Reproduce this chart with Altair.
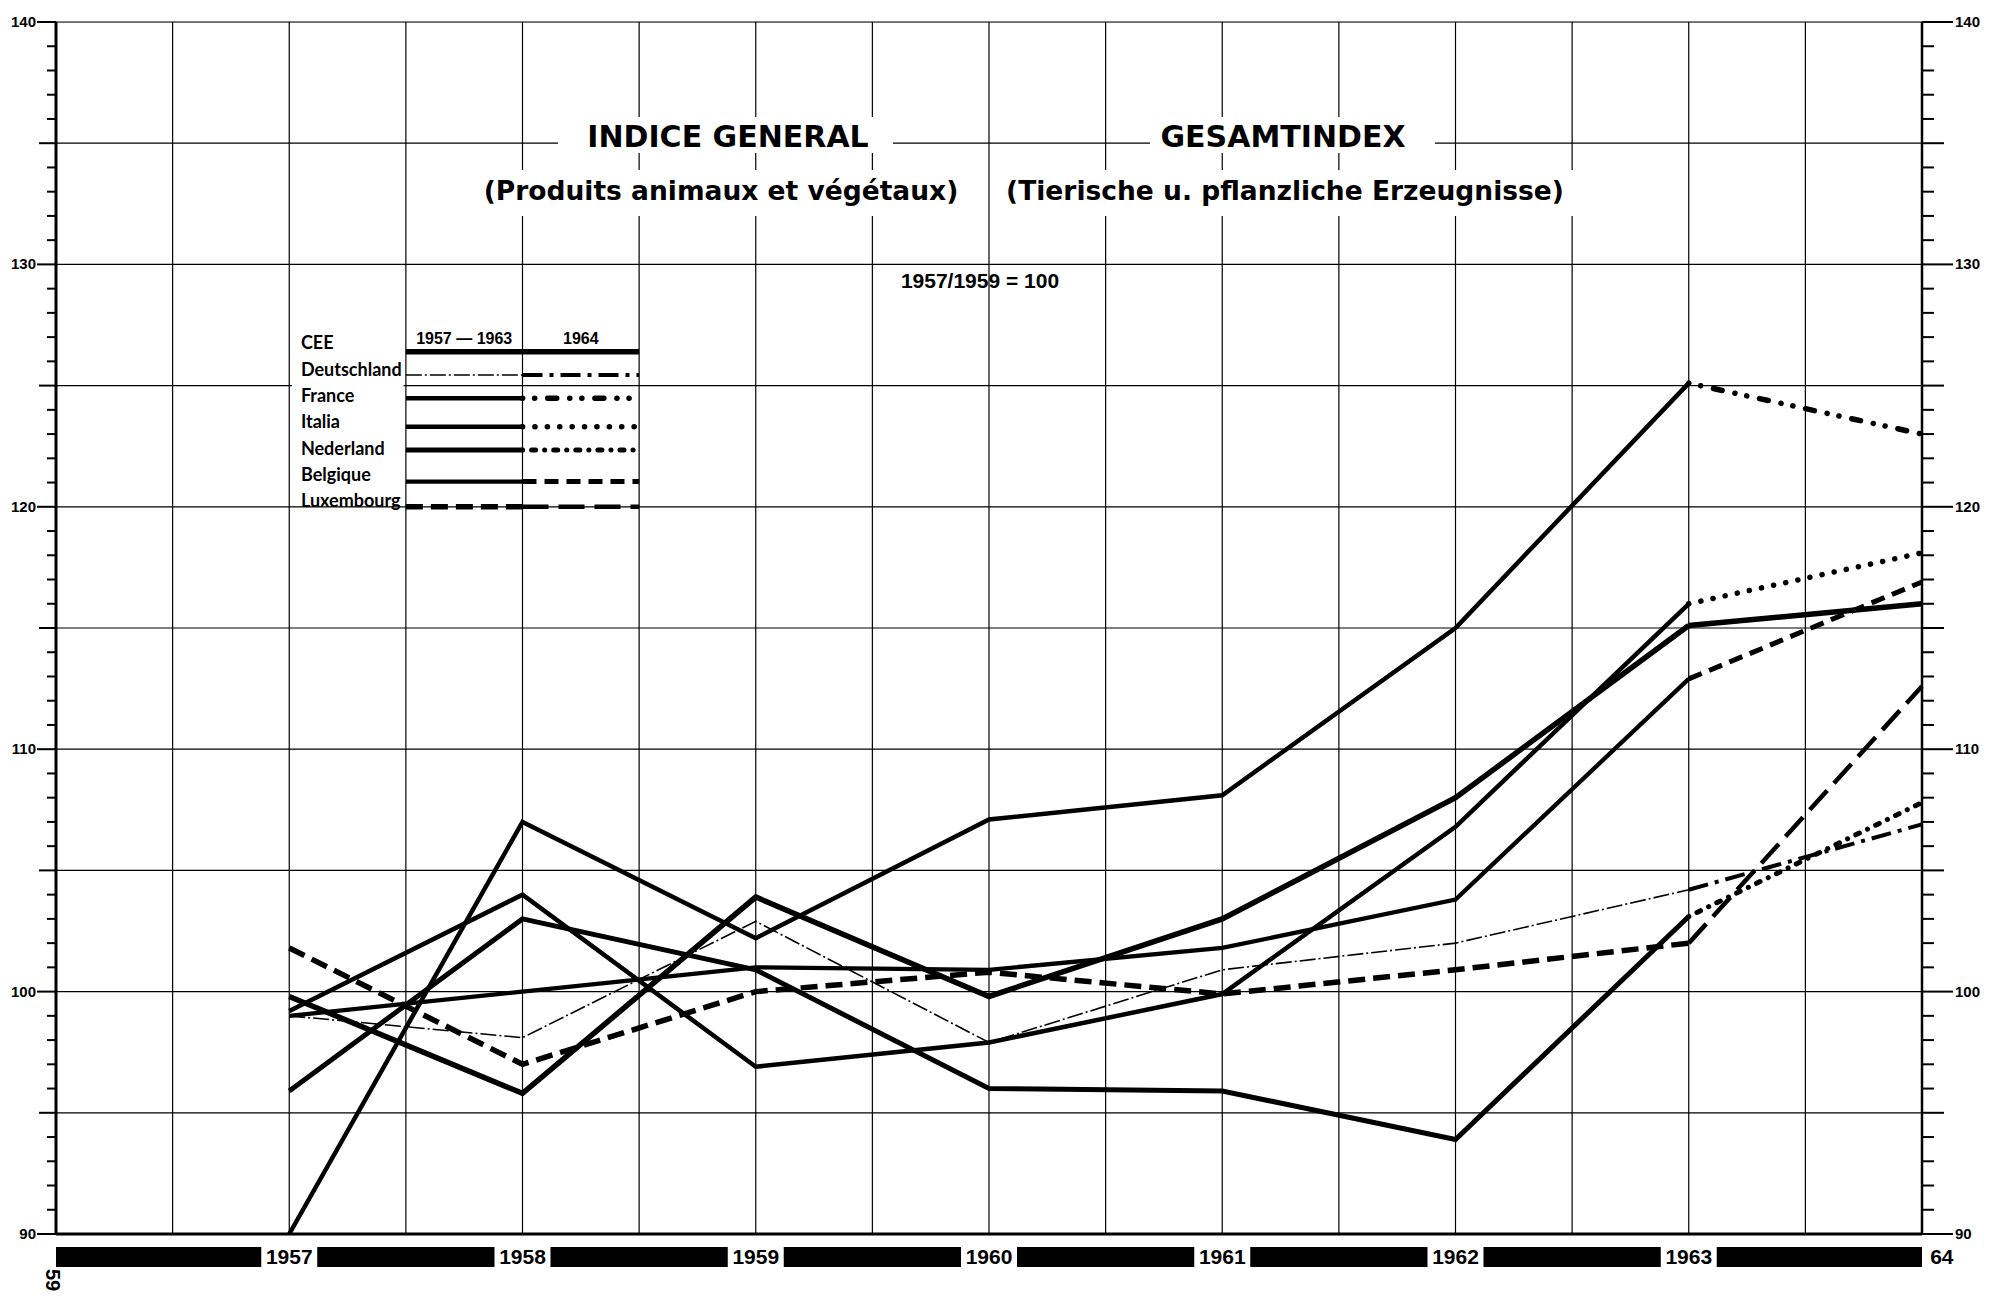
import altair as alt
import pandas as pd

# ---------------- data ----------------
YEARS = [1957, 1958, 1959, 1960, 1961, 1962, 1963]
YEARS_1964 = [1963, 1964]
SERIES = ["CEE", "Deutschland", "France", "Italia", "Nederland", "Belgique", "Luxembourg"]

CEE = [99.8, 95.8, 103.9, 99.8, 103.0, 108.0, 115.1]
DEUTSCHLAND = [99.0, 98.1, 102.9, 97.9, 100.9, 102.0, 104.2]
FRANCE = [90.0, 107.0, 102.2, 107.1, 108.1, 115.0, 125.1]
ITALIA = [99.2, 104.0, 96.9, 97.9, 99.9, 106.8, 116.0]
NEDERLAND = [95.9, 103.0, 100.9, 96.0, 95.9, 93.9, 103.1]
BELGIQUE = [99.0, 100.0, 101.0, 100.9, 101.8, 103.8, 112.9]
LUXEMBOURG = [101.8, 97.0, 100.0, 100.8, 99.9, 100.9, 102.0]
VALUES_1964 = [116.0, 106.9, 123.0, 118.1, 107.8, 116.9, 112.6]

SERIES_VALUES = [CEE, DEUTSCHLAND, FRANCE, ITALIA, NEDERLAND, BELGIQUE, LUXEMBOURG]

# legend (drawn inside the plot, in data units)
LEGEND_TEXT_Y = [126.72, 125.62, 124.51, 123.44, 122.36, 121.29, 120.20]
LEGEND_LINE_Y = [126.40, 125.44, 124.48, 123.30, 122.34, 121.04, 120.0]
LEGEND_LABEL_X = 1957.05
LEGEND_SEG1 = [1957.5, 1958.0]
LEGEND_SEG2 = [1958.0, 1958.5]
LEGEND_HEAD = ["1957 \u2014 1963", "1964"]
LEGEND_HEAD_X = [1957.75, 1958.25]
LEGEND_HEAD_Y = 126.94

# axes
AXIS_LABELS = [90, 100, 110, 120, 130, 140]
FIVE_TICKS = [95, 105, 115, 125, 135]
MINOR_TICKS = [v for v in range(91, 140) if v % 5]
H_GRID = [95, 100, 105, 110, 115, 120, 125, 130, 135, 140]
V_GRID = [1956.5, 1957, 1957.5, 1958, 1958.5, 1959, 1959.5, 1960, 1960.5,
          1961, 1961.5, 1962, 1962.5, 1963, 1963.5]
YEAR_LABELS = ["1957", "1958", "1959", "1960", "1961", "1962", "1963", "64"]
YEAR_LABEL_X = [1957, 1958, 1959, 1960, 1961, 1962, 1963, 1964.085]
BAR_START = [1956, 1957.12, 1958.12, 1959.12, 1960.12, 1961.12, 1962.12, 1963.12]
BAR_END = [1956.88, 1957.88, 1958.88, 1959.88, 1960.88, 1961.88, 1962.88, 1964.0]

TITLE_1 = ["INDICE GENERAL", "GESAMTINDEX"]
TITLE_2 = ["(Produits animaux et v\u00e9g\u00e9taux)", "(Tierische u. pflanzliche Erzeugnisse)"]
BASE_NOTE = "1957/1959 = 100"
PAGE_NO = "59"

# ---------------- layout ----------------
W, H = 1866, 1212
LEFT, TOP, RIGHT, BOTTOM = 48, 14, 66, 58

TITLE_FONT = "DejaVu Sans"
LABEL_FONT = "Lato"
NUM_FONT = "Liberation Sans"

xs = alt.Scale(domain=[1956, 1964], nice=False, zero=False)
ys = alt.Scale(domain=[90, 140], nice=False, zero=False)


def X(f="year"):
    return alt.X(f"{f}:Q", scale=xs, axis=None)


def Y(f="value"):
    return alt.Y(f"{f}:Q", scale=ys, axis=None)


ONE = pd.DataFrame({"k": [0]})
layers = []

# gridlines
layers.append(alt.Chart(pd.DataFrame({"value": H_GRID})).mark_rule(color="black", strokeWidth=1.2)
              .encode(y=Y(), x=alt.value(0), x2=alt.value(W)))
layers.append(alt.Chart(pd.DataFrame({"year": V_GRID})).mark_rule(color="black", strokeWidth=1.2)
              .encode(x=X(), y=alt.value(0), y2=alt.value(H)))

# white backgrounds behind the title pieces
for (a, b, c, d) in [(502, 837, 95, 131), (1094, 1379, 95, 131),
                     (417, 912, 148, 194), (937, 1522, 148, 194)]:
    layers.append(alt.Chart(ONE).mark_rect(color="white")
                  .encode(x=alt.value(a), x2=alt.value(b), y=alt.value(c), y2=alt.value(d)))
# white box behind legend labels
layers.append(alt.Chart(pd.DataFrame({"x1": [1957.012], "x2": [1957.49], "y1": [127.6], "y2": [120.35]}))
              .mark_rect(color="white")
              .encode(x=X("x1"), x2=alt.X2("x2"), y=Y("y1"), y2=alt.Y2("y2")))


def ptext(s, x, y, size, font, weight="bold", align="center", baseline="alphabetic", angle=0):
    return (alt.Chart(pd.DataFrame({"t": [s]}))
            .mark_text(font=font, fontSize=size, fontWeight=weight, align=align,
                       baseline=baseline, angle=angle, color="black")
            .encode(text="t:N", x=alt.value(x), y=alt.value(y)))


layers.append(ptext(TITLE_1[0], 672, 125, 30, TITLE_FONT))
layers.append(ptext(TITLE_1[1], 1227, 125, 30, TITLE_FONT))
layers.append(ptext(TITLE_2[0], 665, 178, 26.5, TITLE_FONT))
layers.append(ptext(TITLE_2[1], 1229, 178, 26.5, TITLE_FONT))
layers.append(ptext(BASE_NOTE, 924, 260, 21, NUM_FONT, baseline="middle"))

# legend labels and headers
layers.append(alt.Chart(pd.DataFrame({"t": SERIES, "year": [LEGEND_LABEL_X] * 7, "value": LEGEND_TEXT_Y}))
              .mark_text(font=LABEL_FONT, fontSize=18, fontWeight="bold", align="left",
                         baseline="middle", color="black")
              .encode(x=X(), y=Y(), text="t:N"))
layers.append(alt.Chart(pd.DataFrame({"t": LEGEND_HEAD, "year": LEGEND_HEAD_X, "value": [LEGEND_HEAD_Y] * 2}))
              .mark_text(font=NUM_FONT, fontSize=16, fontWeight="bold", align="center",
                         baseline="middle", color="black")
              .encode(x=X(), y=Y(), text="t:N"))

# line styles: (width, dash, cap) for 1957-1963 and for 1964
STYLES = {
    "CEE": ((5.5, None, "butt"), (5.5, None, "butt")),
    "Deutschland": ((1.6, [16, 3, 2, 3], "butt"), (4.0, [20, 7, 4, 7], "butt")),
    "France": ((4.5, None, "butt"), (5.5, [0.1, 12, 0.1, 13, 9, 13], "round")),
    "Italia": ((4.5, None, "butt"), (5.5, [0.1, 12.3], "round")),
    "Nederland": ((5.0, None, "butt"), (5.0, [0.1, 9, 4, 9], "round")),
    "Belgique": ((4.3, None, "butt"), (5.0, [14, 8], "butt")),
    "Luxembourg": ((5.5, [17, 8], "butt"), (4.5, [26, 10], "butt")),
}


def line(df, style):
    w, dash, cap = style
    kw = dict(color="black", strokeWidth=w, strokeCap=cap, strokeJoin="miter")
    if dash:
        kw["strokeDash"] = dash
    return alt.Chart(df).mark_line(**kw).encode(x=X(), y=Y(), order="year:Q")


for i, name in enumerate(SERIES):
    s1, s2 = STYLES[name]
    ly = LEGEND_LINE_Y[i]
    layers.append(line(pd.DataFrame({"year": LEGEND_SEG1, "value": [ly, ly]}), s1))
    layers.append(line(pd.DataFrame({"year": LEGEND_SEG2, "value": [ly, ly]}), s2))

for i, name in enumerate(SERIES):
    s1, s2 = STYLES[name]
    vals = SERIES_VALUES[i]
    layers.append(line(pd.DataFrame({"year": YEARS, "value": vals}), s1))
    layers.append(line(pd.DataFrame({"year": YEARS_1964, "value": [vals[-1], VALUES_1964[i]]}), s2))

# axis lines
layers.append(alt.Chart(ONE).mark_rule(color="black", strokeWidth=3)
              .encode(x=alt.value(0), y=alt.value(0), y2=alt.value(H)))
layers.append(alt.Chart(ONE).mark_rule(color="black", strokeWidth=2.5)
              .encode(x=alt.value(W), y=alt.value(0), y2=alt.value(H)))
layers.append(alt.Chart(ONE).mark_rule(color="black", strokeWidth=3)
              .encode(x=alt.value(0), x2=alt.value(W), y=alt.value(H)))

# ticks
for vals, l_len, r_len in [(MINOR_TICKS, 9, 12), (FIVE_TICKS, 17, 22), (AXIS_LABELS, 19, 31)]:
    df = pd.DataFrame({"value": vals})
    layers.append(alt.Chart(df).mark_rule(color="black", strokeWidth=2)
                  .encode(y=Y(), x=alt.value(-l_len), x2=alt.value(0)))
    layers.append(alt.Chart(df).mark_rule(color="black", strokeWidth=2)
                  .encode(y=Y(), x=alt.value(W), x2=alt.value(W + r_len)))

lab_df = pd.DataFrame({"value": AXIS_LABELS, "t": [str(v) for v in AXIS_LABELS]})
layers.append(alt.Chart(lab_df).mark_text(font=NUM_FONT, fontSize=15, fontWeight="bold",
                                          align="right", baseline="middle", color="black")
              .encode(y=Y(), x=alt.value(-20), text="t:N"))
layers.append(alt.Chart(lab_df).mark_text(font=NUM_FONT, fontSize=15, fontWeight="bold",
                                          align="left", baseline="middle", color="black")
              .encode(y=Y(), x=alt.value(W + 33), text="t:N"))

# bottom black bars with year labels
layers.append(alt.Chart(pd.DataFrame({"year": BAR_START, "end": BAR_END})).mark_rect(color="black")
              .encode(x=X(), x2=alt.X2("end"), y=alt.value(H + 13), y2=alt.value(H + 33)))
layers.append(alt.Chart(pd.DataFrame({"year": YEAR_LABEL_X, "t": YEAR_LABELS}))
              .mark_text(font=NUM_FONT, fontSize=21, fontWeight="bold", align="center",
                         baseline="middle", color="black")
              .encode(x=X(), y=alt.value(H + 24), text="t:N"))

# page number
layers.append(ptext(PAGE_NO, -4, 1258, 20, NUM_FONT, align="center", baseline="middle", angle=90))

chart = (alt.layer(*layers)
         .properties(width=W, height=H,
                     autosize=alt.AutoSizeParams(type="none"),
                     padding={"left": LEFT, "top": TOP, "right": RIGHT, "bottom": BOTTOM})
         .configure_view(stroke=None)
         .configure(background="white"))

chart.save("out.html", embed_options={"renderer": "svg", "actions": False})
